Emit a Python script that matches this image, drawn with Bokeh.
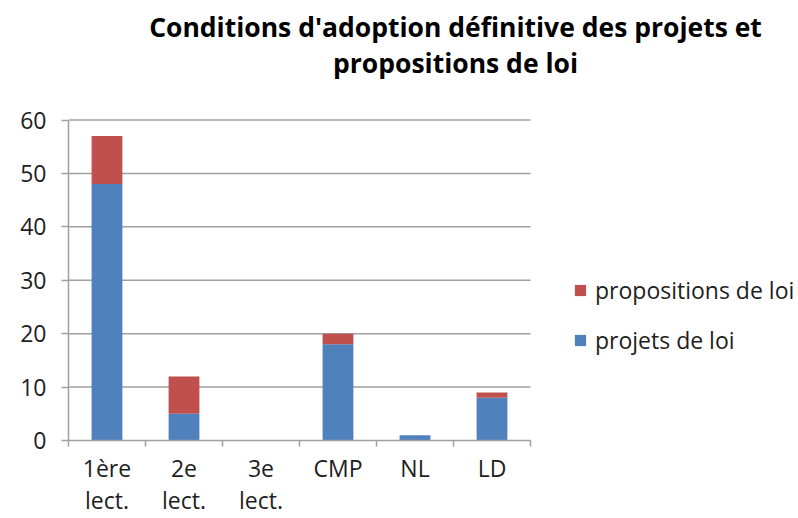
from bokeh.plotting import figure
from bokeh.models import (FixedTicker, Range1d, Legend, LegendItem, Label,
                          ColumnDataSource)
from bokeh.embed import file_html
from bokeh.resources import INLINE

categories = ["1ère\nlect.", "2e\nlect.", "3e\nlect.", "CMP", "NL", "LD"]
projets = [48, 5, 0, 18, 1, 8]
propositions = [9, 7, 0, 2, 0, 1]
series_names = ["projets de loi", "propositions de loi"]
y_ticks = [0, 10, 20, 30, 40, 50, 60]
title_lines = ["Conditions d'adoption définitive des projets et",
               "propositions de loi"]

FONT = "Open Sans"
BLUE = "#4F81BD"
RED = "#C0504D"
GRID = "#A0A0A0"
TXT = "#1E1E1E"

# layout (pixels): plot area 68..530 x 119.5..440, canvas 798 x 518
W, H = 798, 518
PL, PR, PT, PB = 68, 530, 119.5, 440
ncat = len(categories)
ymax = y_ticks[-1]
x_end = ncat * (W - PL) / (PR - PL)
y_end = ymax * PB / (PB - PT)
px_x = (PR - PL) / ncat          # pixels per x unit
px_y = (PB - PT) / ymax          # pixels per y unit

xpos = [i + 0.5 for i in range(ncat)]
src = ColumnDataSource(dict(x=xpos, projets=projets, propositions=propositions))

p = figure(width=W, height=H, output_backend="svg", toolbar_location=None,
           x_range=Range1d(0, x_end), y_range=Range1d(0, y_end),
           min_border_left=PL, min_border_right=0, min_border_top=0,
           min_border_bottom=H - PB)
p.outline_line_color = None
p.background_fill_color = "white"
p.border_fill_color = "white"
p.xgrid.grid_line_color = None
p.ygrid.grid_line_color = None

# horizontal gridlines limited to the plot area
p.segment(x0=[0] * (len(y_ticks) - 1), x1=[ncat] * (len(y_ticks) - 1),
          y0=y_ticks[1:], y1=y_ticks[1:], line_color=GRID, line_width=1.5)

r = p.vbar_stack(["projets", "propositions"], x="x", width=0.4, source=src,
                 color=[BLUE, RED], line_color=None)

# x axis
p.xaxis.bounds = (0, ncat)
p.xaxis.ticker = FixedTicker(ticks=xpos, minor_ticks=list(range(ncat + 1)))
p.xaxis.major_label_overrides = {x: c for x, c in zip(xpos, categories)}
p.xaxis.major_tick_line_color = None
p.xaxis.minor_tick_line_color = GRID
p.xaxis.minor_tick_out = 6
p.xaxis.minor_tick_in = 0
p.xaxis.minor_tick_line_width = 1.5
p.xaxis.axis_line_color = GRID
p.xaxis.axis_line_width = 1.5
p.xaxis.major_label_standoff = 5
p.xaxis.major_label_text_font = FONT
p.xaxis.major_label_text_font_size = "23px"
p.xaxis.major_label_text_color = TXT
p.xaxis.major_label_text_line_height = 1.0

# y axis
p.yaxis.bounds = (0, ymax)
p.yaxis.ticker = FixedTicker(ticks=y_ticks, minor_ticks=[])
p.yaxis.axis_line_color = GRID
p.yaxis.axis_line_width = 1.5
p.yaxis.major_tick_line_color = GRID
p.yaxis.major_tick_line_width = 1.5
p.yaxis.major_tick_out = 7
p.yaxis.major_tick_in = 0
p.yaxis.major_label_standoff = 15
p.yaxis.major_label_text_font = FONT
p.yaxis.major_label_text_font_size = "23px"
p.yaxis.major_label_text_color = TXT

legend = Legend(items=[LegendItem(label=series_names[1], renderers=[r[1]]),
                       LegendItem(label=series_names[0], renderers=[r[0]])],
                location=(573 - PL, 84), orientation="vertical",
                glyph_width=14, glyph_height=14, label_standoff=8,
                spacing=18, padding=0, margin=0,
                border_line_color=None, background_fill_alpha=0,
                label_text_font=FONT, label_text_font_size="23px",
                label_text_color=TXT)
p.add_layout(legend, "center")

# title lines, centred at x=455 px, y=26 px and 62 px from the top
for t, ty in zip(title_lines, [26, 62]):
    p.add_layout(Label(x=(455 - PL) / px_x, y=(PB - ty) / px_y, text=t,
                       text_align="center", text_baseline="middle",
                       text_font=FONT, text_font_style="bold",
                       text_font_size="26.5px", text_color="#000000"))

open("out.html", "w").write(file_html(p, INLINE))
